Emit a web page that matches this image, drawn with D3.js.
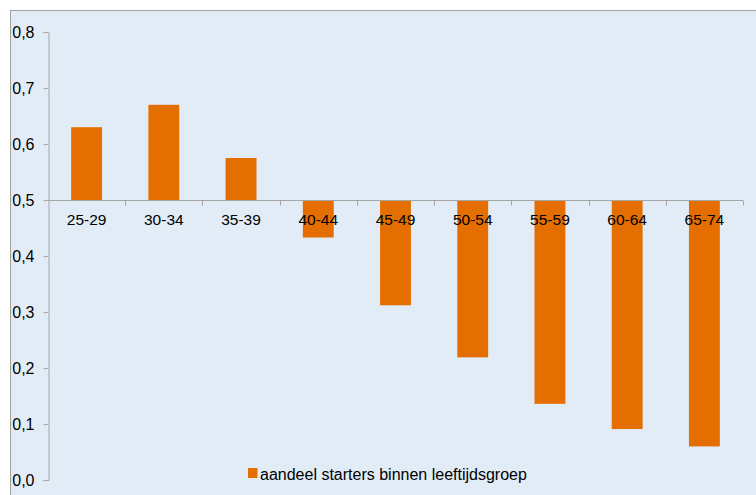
<!DOCTYPE html>
<html><head><meta charset="utf-8">
<script src="https://cdn.jsdelivr.net/npm/d3@7"></script>
<style>
html,body{margin:0;padding:0;background:#fff;}
svg{display:block;font-family:"Liberation Sans",Arial,sans-serif;}
</style></head>
<body>
<svg id="c" width="756" height="495"></svg>
<script>
const categories = ["25-29","30-34","35-39","40-44","45-49","50-54","55-59","60-64","65-74"];
const values = [0.630,0.670,0.575,0.433,0.312,0.219,0.136,0.091,0.060];
const yTicks = [0,0.1,0.2,0.3,0.4,0.5,0.6,0.7,0.8];
const yTickLabels = ["0,0","0,1","0,2","0,3","0,4","0,5","0,6","0,7","0,8"];
const baseline = 0.5;
const seriesName = "aandeel starters binnen leeftijdsgroep";

const svg = d3.select("#c");
svg.append("rect").attr("x",10.5).attr("y",10.5).attr("width",760).attr("height",500)
  .attr("fill","#e2ecf6").attr("stroke","#a0a0a0").attr("stroke-width",1);

const x = d3.scaleBand().domain(categories).range([48,743]).padding(0);
const y = d3.scaleLinear().domain([0,0.8]).range([480,32]);
const barW = x.bandwidth()*0.4;

// y axis
const yAxis = d3.axisLeft(y).tickValues(yTicks).tickFormat((d,i)=>yTickLabels[i]).tickSize(5).tickPadding(9);
const gy = svg.append("g").attr("transform","translate(48.5,0)").call(yAxis);
gy.select(".domain").attr("stroke","#a6a6a6").attr("d","M-5,"+(y(0.8)+0.5)+"H0.5V"+(y(0)+0.5)+"H-5");
gy.selectAll(".tick line").attr("stroke","#a6a6a6");
gy.selectAll(".tick text").attr("font-size","16px").attr("fill","#000").attr("font-family","'Liberation Sans',Arial,sans-serif");

// bars
svg.append("g").selectAll("rect").data(values).join("rect")
  .attr("x",(d,i)=>x(categories[i])+(x.bandwidth()-barW)/2)
  .attr("y",d=>y(Math.max(d,baseline)))
  .attr("width",barW)
  .attr("height",d=>Math.abs(y(d)-y(baseline)))
  .attr("fill","#e46f00");

// x axis at baseline
const gx = svg.append("g").attr("transform","translate(0,"+(y(baseline)+0.5)+")");
gx.append("line").attr("x1",48).attr("x2",743).attr("stroke","#a6a6a6");
const bounds = categories.map(c=>x(c)).concat([x(categories[categories.length-1])+x.bandwidth()]);
gx.selectAll("line.t").data(bounds.slice(1)).join("line").attr("class","t")
  .attr("x1",d=>Math.round(d)+0.5).attr("x2",d=>Math.round(d)+0.5).attr("y1",0).attr("y2",5).attr("stroke","#a6a6a6");
gx.selectAll("text").data(categories).join("text")
  .attr("x",d=>x(d)+x.bandwidth()/2).attr("y",24.5)
  .attr("text-anchor","middle").attr("font-size","15.5px").attr("fill","#000").text(d=>d);

// legend
const lg = svg.append("g");
lg.append("rect").attr("x",248).attr("y",468).attr("width",9.5).attr("height",10).attr("fill","#e46f00");
lg.append("text").attr("x",260).attr("y",480).attr("font-size","16px").attr("fill","#000").text(seriesName);
</script>
</body></html>
